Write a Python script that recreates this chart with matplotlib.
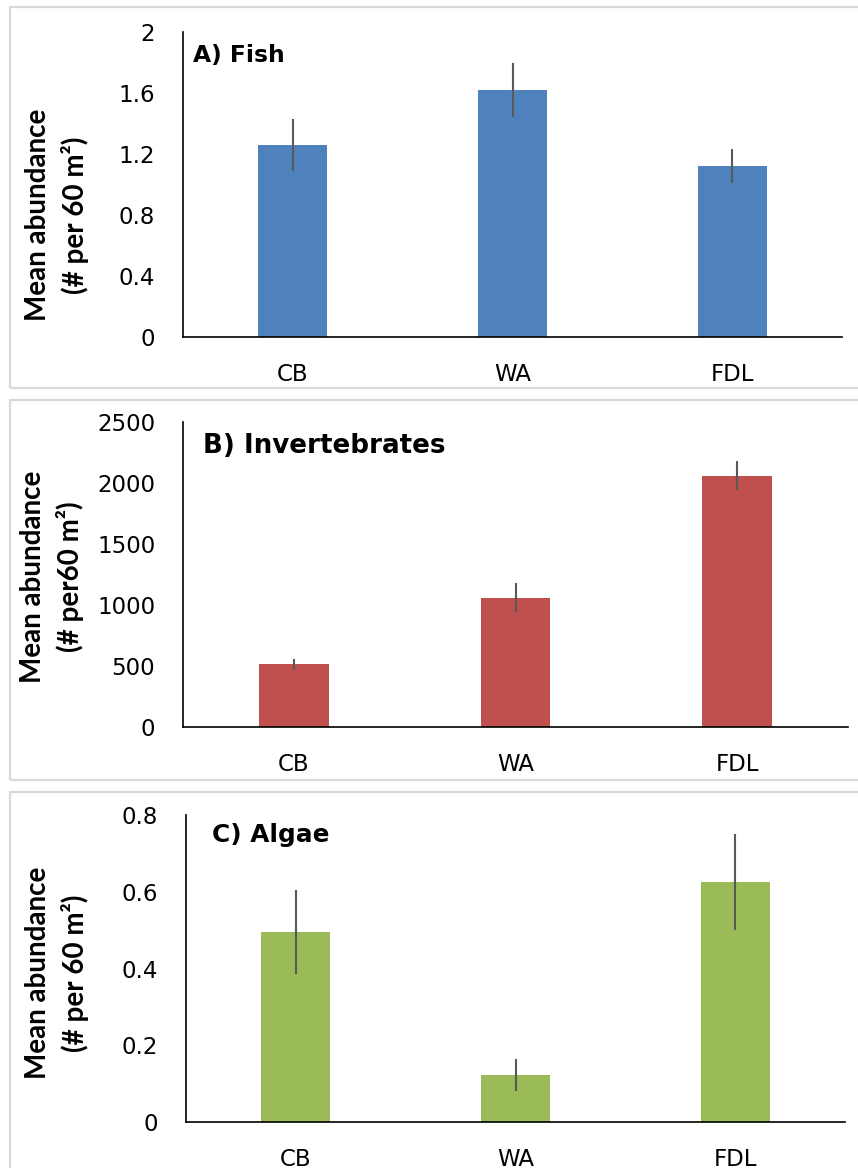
import matplotlib.pyplot as plt
from matplotlib.patches import Rectangle
from matplotlib.ticker import FuncFormatter

# 图像尺寸（像素）
W, H = 858, 1168

# 数据
sites = ["CB", "WA", "FDL"]
fish_mean = [1.26, 1.62, 1.12]
fish_se = [0.17, 0.18, 0.11]
invert_mean = [515, 1060, 2060]
invert_se = [45, 118, 120]
algae_mean = [0.495, 0.122, 0.625]
algae_se = [0.11, 0.042, 0.125]

fish_ticks = [0, 0.4, 0.8, 1.2, 1.6, 2]
invert_ticks = [0, 500, 1000, 1500, 2000, 2500]
algae_ticks = [0, 0.2, 0.4, 0.6, 0.8]


def fx(x):
    return x / W


def fy(y):
    return 1 - y / H


fig = plt.figure(figsize=(W / 100, H / 100), dpi=100)

panels = [
    # 均值, 误差, 颜色, 刻度, 标题, y轴标题, 坐标轴范围(px), 标题位置, 标题字号, y标题中心, 边框(px)
    (fish_mean, fish_se, "#4F81BD", fish_ticks, "A) Fish",
     "Mean abundance\n(# per 60 m²)", (183, 32, 842, 337), (193, 62), 16.8, (57, 215), (10, 7, 388)),
    (invert_mean, invert_se, "#C0504D", invert_ticks, "B) Invertebrates",
     "Mean abundance\n(# per60 m²)", (183, 422, 848, 727), (203, 453), 18.8, (52, 577), (10, 400, 780)),
    (algae_mean, algae_se, "#9BBB59", algae_ticks, "C) Algae",
     "Mean abundance\n(# per 60 m²)", (186, 815, 845, 1122), (212, 842), 17.8, (57, 973), (10, 792, 1200)),
]

for mean, se, color, ticks, title, ylabel, box, tpos, tsize, lpos, frame in panels:
    # 灰色边框
    fl, ft, fb = frame
    fig.patches.append(Rectangle((fx(fl), fy(fb)), fx(W + 20 - fl), (fb - ft) / H,
                                 transform=fig.transFigure, fill=False,
                                 edgecolor="#D9D9D9", linewidth=1.6))

    l, t, r, b = box
    ax = fig.add_axes([fx(l), fy(b), (r - l) / W, (b - t) / H])
    ax.bar(range(len(sites)), mean, width=0.315, color=color, yerr=se,
           error_kw=dict(ecolor="#595959", elinewidth=1.5, capsize=0))
    ax.set_xlim(-0.5, len(sites) - 0.5)
    ax.set_ylim(0, ticks[-1])
    ax.set_yticks(ticks)
    ax.yaxis.set_major_formatter(FuncFormatter(lambda v, p: f"{v:g}"))
    ax.set_xticks(range(len(sites)))
    ax.set_xticklabels(sites)
    ax.tick_params(axis="y", length=0, pad=20, labelsize=16.5)
    ax.tick_params(axis="x", length=0, pad=19, labelsize=16.5)
    for side in ["top", "right"]:
        ax.spines[side].set_visible(False)
    for side in ["left", "bottom"]:
        ax.spines[side].set_linewidth(1.2)
        ax.spines[side].set_color("black")

    fig.text(fx(tpos[0]), fy(tpos[1]), title, ha="left", va="baseline",
             fontsize=tsize, fontweight="bold")
    fig.text(fx(lpos[0]), fy(lpos[1]), ylabel, rotation=90, ha="center", va="center",
             multialignment="center", family="Lato", fontweight="bold",
             fontsize=20, linespacing=1.45)

fig.savefig("out.png", dpi=100)
